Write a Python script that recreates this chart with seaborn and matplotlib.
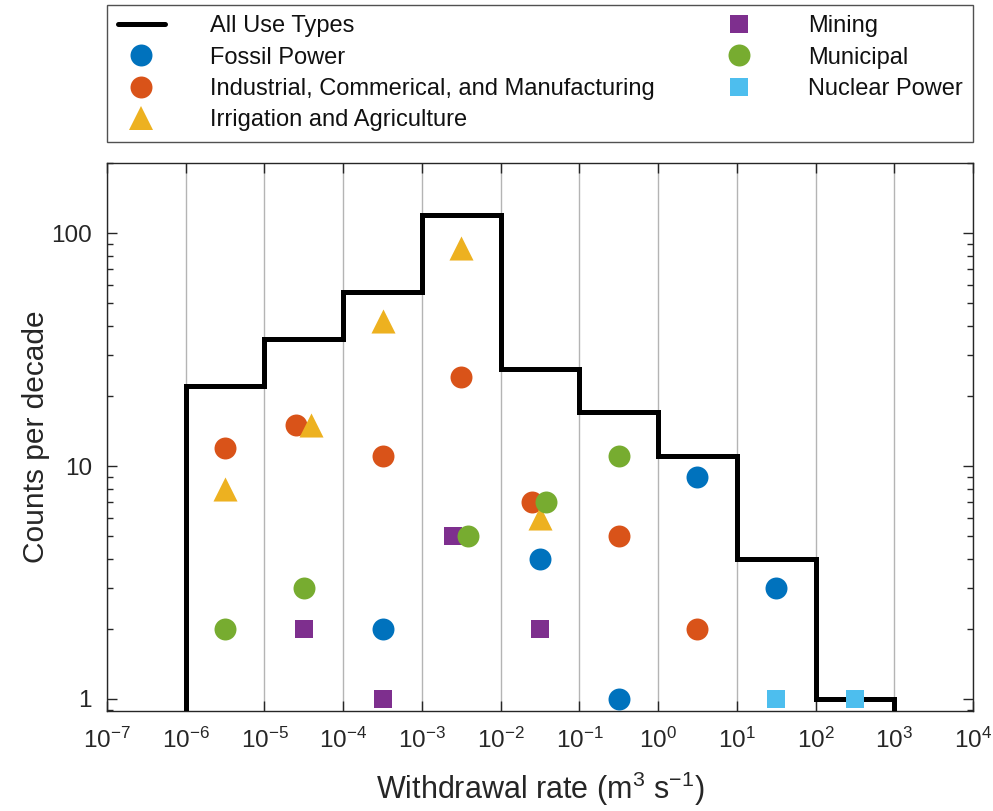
import numpy as np
import pandas as pd
import matplotlib
matplotlib.use("Agg")
import matplotlib.pyplot as plt
from matplotlib.lines import Line2D
import seaborn as sns

sns.set_theme(style="white")
plt.rcParams["font.family"] = ["Liberation Sans", "DejaVu Sans"]
plt.rcParams["mathtext.fontset"] = "custom"
plt.rcParams["mathtext.rm"] = "Liberation Sans"
plt.rcParams["mathtext.it"] = "Liberation Sans"
plt.rcParams["axes.unicode_minus"] = False

# Decade bin edges (m^3/s) and total counts per decade
bin_edges = [1e-6, 1e-5, 1e-4, 1e-3, 1e-2, 1e-1, 1e0, 1e1, 1e2, 1e3]
all_counts = [22, 35, 56, 120, 26, 17, 11, 4, 1]

# Per-category counts: decade index (0 = 1e-6..1e-5) and count
fossil_bin = [2, 4, 5, 6, 7]
fossil_cnt = [2, 4, 1, 9, 3]
industrial_bin = [0, 1, 2, 3, 4, 5, 6]
industrial_cnt = [12, 15, 11, 24, 7, 5, 2]
irrigation_bin = [0, 1, 2, 3, 4]
irrigation_cnt = [8, 15, 42, 86, 6]
mining_bin = [1, 2, 3, 4]
mining_cnt = [2, 1, 5, 2]
municipal_bin = [0, 1, 3, 4, 5]
municipal_cnt = [2, 3, 5, 7, 11]
nuclear_bin = [7, 8]
nuclear_cnt = [1, 1]

categories = ["Fossil Power", "Industrial, Commerical, and Manufacturing",
              "Irrigation and Agriculture", "Mining", "Municipal", "Nuclear Power"]
colors = ["#0072BD", "#D95319", "#EDB120", "#7E2F8E", "#77AC30", "#4DBEEE"]
markers = ["o", "o", "^", "s", "o", "s"]
sizes = [250, 250, 300, 150, 250, 150]

bins_by_cat = [fossil_bin, industrial_bin, irrigation_bin, mining_bin, municipal_bin, nuclear_bin]
cnts_by_cat = [fossil_cnt, industrial_cnt, irrigation_cnt, mining_cnt, municipal_cnt, nuclear_cnt]

# small horizontal nudges (in decades) where markers in a bin would overlap
nudge = {
    ("Industrial, Commerical, and Manufacturing", 1): -0.10,
    ("Irrigation and Agriculture", 1): 0.09,
    ("Mining", 3): -0.11,
    ("Municipal", 3): 0.08,
    ("Industrial, Commerical, and Manufacturing", 4): -0.10,
    ("Municipal", 4): 0.08,
}

rows = []
for cat, b_list, c_list in zip(categories, bins_by_cat, cnts_by_cat):
    for b, c in zip(b_list, c_list):
        center = np.log10(bin_edges[b]) + 0.5 + nudge.get((cat, b), 0.0)
        rows.append({"category": cat, "rate": 10 ** center, "count": c})
df = pd.DataFrame(rows)

fig = plt.figure(figsize=(9.93, 8.11), dpi=100)
ax = fig.add_axes([0.1078, 0.1233, 0.8721, 0.6757])
ax.set_xscale("log")
ax.set_yscale("log")

ax.stairs(all_counts, bin_edges, baseline=0.1, color="black", linewidth=3.6, zorder=3)

for cat, col, mk, s in zip(categories, colors, markers, sizes):
    sub = df[df["category"] == cat]
    sns.scatterplot(data=sub, x="rate", y="count", ax=ax, color=col, marker=mk,
                    s=s, linewidth=0, legend=False, zorder=4)

ax.set_xlim(1e-7, 1e4)
ax.set_ylim(0.888, 200)
ax.set_xticks([10.0 ** k for k in range(-7, 5)])
ax.xaxis.set_minor_locator(matplotlib.ticker.NullLocator())
ax.set_yticks([1, 10, 100])
ax.set_yticklabels(["1", "10", "100"])
ax.grid(axis="x", which="major", color="#b4b4b4", linewidth=1.0)
ax.grid(axis="y", visible=False)
ax.tick_params(which="both", direction="in", left=True, bottom=True, top=True, right=True,
               colors="#262626", labelcolor="#262626", labelsize=17.5)
ax.tick_params(which="major", length=7, width=1)
ax.tick_params(which="minor", length=4, width=1)
ax.tick_params(axis="x", which="major", pad=12)
ax.tick_params(axis="y", which="major", pad=11)
for sp in ax.spines.values():
    sp.set_color("#262626")
    sp.set_linewidth(1.0)

ax.set_xlabel(r"Withdrawal rate (m$^3$ s$^{\mathregular{-1}}$)", fontsize=22, color="#262626", labelpad=12)
ax.set_ylabel("Counts per decade", fontsize=21.5, color="#262626", labelpad=1)

handles = [Line2D([], [], color="black", linewidth=3.6, label="All Use Types")]
for cat, col, mk, s in zip(categories, colors, markers, sizes):
    handles.append(Line2D([], [], color=col, marker=mk, linestyle="none",
                          markersize=np.sqrt(s), markeredgewidth=0, label=cat))

leg = fig.legend(handles=handles, loc="upper left", ncol=2, mode="expand",
                 bbox_to_anchor=(0.1078, 0.994, 0.8721, 0.0),
                 fontsize=17, frameon=True, fancybox=False, edgecolor="#262626",
                 handlelength=2.0, handletextpad=1.9, labelspacing=0.39,
                 borderpad=0.45, borderaxespad=0.0)
leg.get_frame().set_linewidth(1.0)
for t in leg.get_texts():
    t.set_color("#111111")

fig.savefig("out.png", dpi=100)
